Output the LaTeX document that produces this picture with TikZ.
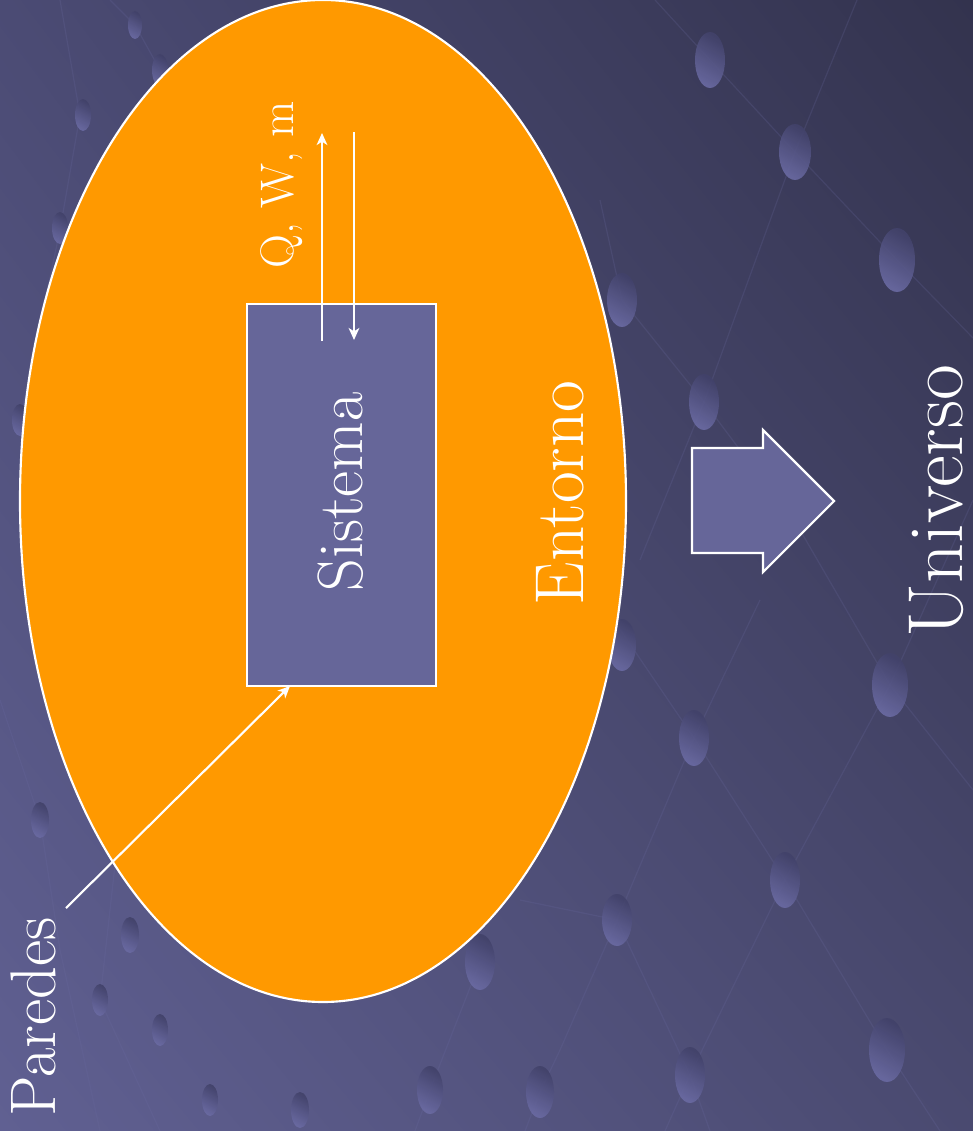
\documentclass[tikz,border=0pt]{standalone}
\usetikzlibrary{arrows.meta,shapes.geometric,shadings}
\definecolor{bgUL}{HTML}{4B4B74}
\definecolor{bgUR}{HTML}{33334E}
\definecolor{bgLL}{HTML}{606092}
\definecolor{bgLR}{HTML}{4A4A70}
\definecolor{orangeE}{HTML}{FF9900}
\definecolor{boxfill}{HTML}{666699}
\definecolor{bubL}{HTML}{6A6AA2}
\definecolor{bubD}{HTML}{42426A}
\definecolor{latline}{HTML}{6A6AA0}
\tikzset{
  warrow/.style={draw=white, line width=1.6pt, -{Stealth[length=9pt,width=8pt,inset=2.5pt]}},
  lbl/.style={text=white, rotate=90, inner sep=0pt, anchor=base},
  bub/.style={top color=bubD, bottom color=bubL, shading angle=-30, opacity=0.9},
  lat/.style={draw=latline, line width=0.9pt, opacity=0.22}
}
\begin{document}
\begin{tikzpicture}[x={(0.75pt,0)}, y={(0,-0.75pt)}]
% background
\shade[upper left=bgUL, upper right=bgUR, lower left=bgLL, lower right=bgLR] (0,0) rectangle (973,1131);
\useasboundingbox (0,0) rectangle (973,1131);
% lattice lines
\draw[lat] (655,0) -- (710,60) -- (795,152) -- (897,260) -- (973,338);
\draw[lat] (857,0) -- (795,152) -- (704,402) -- (640,560);
\draw[lat] (600,200) -- (622,300) -- (704,402) -- (800,530) -- (890,685) -- (973,790);
\draw[lat] (973,500) -- (890,685) -- (785,880) -- (690,1075) -- (665,1131);
\draw[lat] (760,600) -- (694,738) -- (617,920) -- (560,1050) -- (540,1092) -- (525,1131);
\draw[lat] (600,600) -- (694,738) -- (785,880) -- (887,1050) -- (940,1131);
\draw[lat] (520,900) -- (617,920) -- (690,1075) -- (710,1131);
\draw[lat] (480,962) -- (430,1090) -- (415,1131);
\draw[lat] (110,0) -- (135,25) -- (160,70) -- (210,140);
\draw[lat] (60,0) -- (80,115) -- (60,230) -- (20,420);
\draw[lat] (0,700) -- (40,820) -- (60,950) -- (100,1131);
\draw[lat] (120,820) -- (100,1000) -- (160,1131);
% bubbles
\shade[bub] (710,60) ellipse [x radius=15, y radius=28];
\shade[bub] (795,152) ellipse [x radius=16, y radius=28];
\shade[bub] (897,260) ellipse [x radius=18, y radius=32];
\shade[bub] (622,300) ellipse [x radius=15, y radius=27];
\shade[bub] (704,402) ellipse [x radius=15, y radius=28];
\shade[bub] (890,685) ellipse [x radius=18, y radius=32];
\shade[bub] (694,738) ellipse [x radius=15, y radius=28];
\shade[bub] (785,880) ellipse [x radius=15, y radius=28];
\shade[bub] (617,920) ellipse [x radius=15, y radius=26];
\shade[bub] (480,962) ellipse [x radius=15, y radius=28];
\shade[bub] (887,1050) ellipse [x radius=18, y radius=32];
\shade[bub] (690,1075) ellipse [x radius=15, y radius=28];
\shade[bub] (540,1092) ellipse [x radius=14, y radius=26];
\shade[bub] (430,1090) ellipse [x radius=13, y radius=24];
\shade[bub] (622,645) ellipse [x radius=14, y radius=26];
\shade[bub] (135,25) ellipse [x radius=7, y radius=14];
\shade[bub] (160,70) ellipse [x radius=8, y radius=16];
\shade[bub] (83,115) ellipse [x radius=8, y radius=16];
\shade[bub] (60,228) ellipse [x radius=8, y radius=16];
\shade[bub] (20,420) ellipse [x radius=8, y radius=16];
\shade[bub] (40,820) ellipse [x radius=9, y radius=18];
\shade[bub] (130,935) ellipse [x radius=9, y radius=18];
\shade[bub] (100,1000) ellipse [x radius=8, y radius=16];
\shade[bub] (160,1030) ellipse [x radius=8, y radius=16];
\shade[bub] (210,1100) ellipse [x radius=8, y radius=16];
\shade[bub] (300,1110) ellipse [x radius=9, y radius=18];
% environment ellipse
\node[ellipse, draw=white, line width=1.6pt, fill=orangeE, minimum width=606*0.75pt, minimum height=1002*0.75pt, inner sep=0pt] (entornoshape) at (323,501) {};
% system box
\node[draw=white, line width=1.6pt, fill=boxfill, minimum width=189*0.75pt, minimum height=382*0.75pt, inner sep=0pt] (sistema) at (341.5,495) {};
% exchange arrows
\coordinate (upstart) at (322,341);
\coordinate (upend) at (322,133);
\coordinate (downstart) at (354,132);
\coordinate (downend) at (354,340);
\draw[warrow] (upstart) -- (upend);
\draw[warrow] (downstart) -- (downend);
% walls arrow
\coordinate (paredesstart) at (66,908);
\coordinate (paredesend) at (290,686);
\draw[warrow] (paredesstart) -- (paredesend);
% big arrow
\draw[draw=white, line width=1.6pt, fill=boxfill] (692,448) -- (763,448) -- (763,430) -- (834,501) -- (763,572) -- (763,553) -- (692,553) -- cycle;
% labels
\node[lbl, font=\fontsize{35.3}{40}\selectfont] (qwm) at (293,185) {Q, W, m};
\node[lbl, font=\fontsize{48}{54}\selectfont] (sistemalbl) at (362,492) {Sistema};
\node[lbl, font=\fontsize{51.9}{58}\selectfont] (entorno) at (583,493) {Entorno};
\node[lbl, font=\fontsize{58.5}{66}\selectfont] (universo) at (962,501) {Universo};
\node[lbl, font=\fontsize{48.3}{54}\selectfont] (paredes) at (55,1017) {Paredes};
\end{tikzpicture}
\end{document}
